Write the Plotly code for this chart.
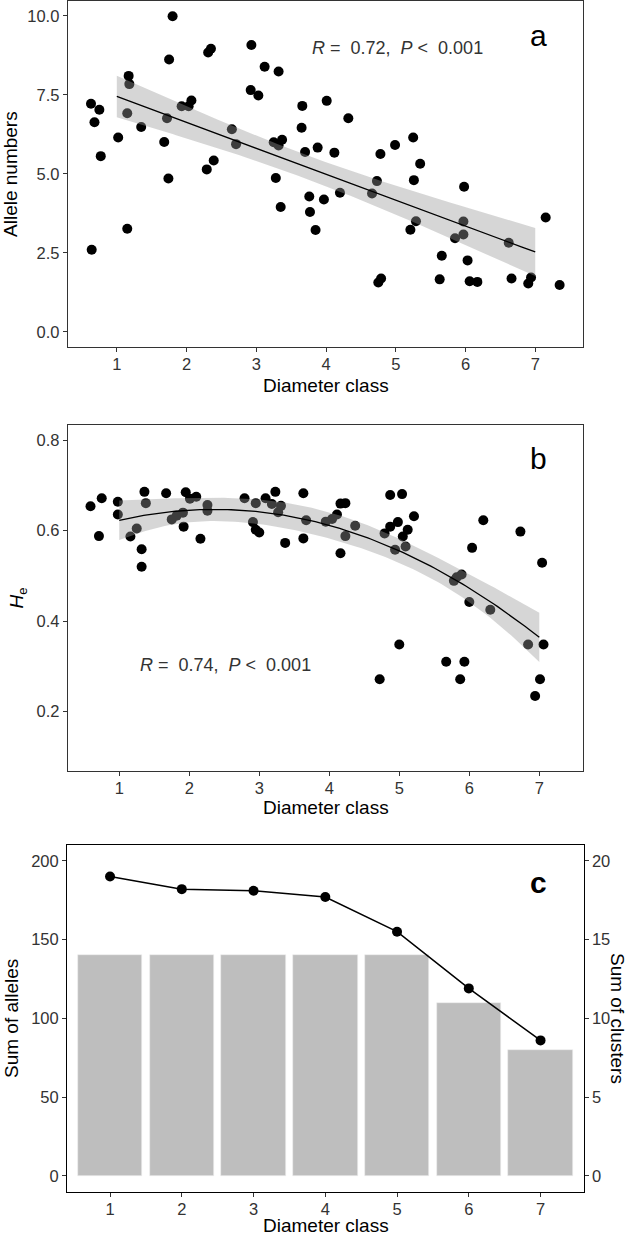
import numpy as np
import plotly.graph_objects as go

# ---------------- data ----------------
# Panel a: allele numbers vs diameter class (jittered x positions)
a_x = [0.63, 0.75, 0.68, 0.77, 0.64, 1.02, 1.17, 1.18, 1.15, 1.15, 1.35, 1.80, 1.75, 1.68, 1.74, 1.72,
       1.93, 2.03, 2.07, 2.31, 2.35, 2.29, 2.39, 2.65, 2.71, 2.93, 2.92, 3.03, 3.12, 3.32, 3.25, 3.37,
       3.32, 3.28, 3.35, 3.66, 3.65, 3.70, 3.88, 4.12, 4.01, 3.76, 3.77, 3.97, 3.85, 4.20, 4.32, 4.78,
       4.99, 5.25, 5.35, 5.26, 4.73, 4.66, 5.29, 5.21, 4.79, 4.75, 5.98, 5.97, 5.97, 5.85, 5.66, 6.03,
       5.63, 6.06, 6.17, 6.62, 6.66, 6.90, 6.94, 7.15, 7.35]
a_y = [7.22, 7.03, 6.63, 5.56, 2.60, 6.15, 8.10, 7.84, 6.92, 3.26, 6.48, 9.99, 8.62, 6.01, 4.85, 6.76,
       7.14, 7.14, 7.32, 8.84, 8.96, 5.14, 5.42, 6.41, 5.94, 9.08, 7.65, 7.48, 8.39, 8.24, 6.00, 6.08,
       5.90, 4.87, 3.95, 7.15, 6.46, 5.69, 5.83, 5.67, 7.31, 4.28, 3.79, 4.19, 3.22, 4.40, 6.76, 5.63,
       5.91, 6.15, 5.32, 4.80, 4.77, 4.38, 3.50, 3.23, 1.69, 1.56, 4.59, 3.49, 3.08, 2.96, 2.41, 2.26,
       1.66, 1.60, 1.58, 2.82, 1.69, 1.53, 1.72, 3.62, 1.48]

# Panel b: He vs diameter class (jittered x positions)
b_x = [0.59, 0.75, 0.71, 0.98, 0.98, 1.16, 1.25, 1.36, 1.38, 1.32, 1.32, 1.67, 1.75, 1.82, 1.91, 1.92,
       1.95, 2.01, 2.10, 2.16, 2.26, 2.26, 2.79, 2.95, 2.91, 2.95, 3.00, 3.09, 3.23, 3.18, 3.31, 3.27,
       3.37, 3.63, 3.67, 3.63, 3.95, 4.04, 4.11, 4.16, 4.23, 4.23, 4.16, 4.37, 4.87, 5.04, 5.21, 4.79,
       4.87, 4.98, 5.12, 5.05, 4.94, 5.09, 5.00, 4.72, 6.20, 6.04, 5.89, 5.78, 5.82, 6.00, 6.30, 5.67,
       5.93, 5.87, 6.73, 7.04, 6.84, 7.06, 7.01, 6.94]
b_y = [0.654, 0.672, 0.588, 0.664, 0.636, 0.587, 0.605, 0.686, 0.661, 0.559, 0.520, 0.683, 0.625, 0.633,
       0.640, 0.609, 0.685, 0.671, 0.675, 0.582, 0.657, 0.644, 0.672, 0.661, 0.619, 0.602, 0.596, 0.672,
       0.686, 0.659, 0.655, 0.641, 0.573, 0.683, 0.623, 0.583, 0.620, 0.626, 0.636, 0.660, 0.661, 0.588,
       0.550, 0.611, 0.679, 0.681, 0.632, 0.594, 0.609, 0.619, 0.602, 0.587, 0.558, 0.565, 0.348, 0.271,
       0.623, 0.562, 0.503, 0.489, 0.497, 0.442, 0.425, 0.310, 0.310, 0.271, 0.598, 0.529, 0.348, 0.348,
       0.271, 0.234]

# Panel c
classes = [1, 2, 3, 4, 5, 6, 7]
sum_alleles = [190, 182, 181, 177, 155, 119, 86]
sum_clusters = [14, 14, 14, 14, 14, 11, 8]

a_ticks = [0.0, 2.5, 5.0, 7.5, 10.0]
b_ticks = [0.2, 0.4, 0.6, 0.8]
c_left_ticks = [0, 50, 100, 150, 200]
c_right_ticks = [0, 5, 10, 15, 20]


# ---------------- fits (computed from the data) ----------------
def poly_fit_band(x, y, deg, grid, tval=1.99):
    x = np.asarray(x, float)
    y = np.asarray(y, float)
    X = np.vander(x, deg + 1, increasing=True)
    beta, *_ = np.linalg.lstsq(X, y, rcond=None)
    resid = y - X @ beta
    dof = len(y) - (deg + 1)
    s2 = resid @ resid / dof
    XtXi = np.linalg.inv(X.T @ X)
    G = np.vander(grid, deg + 1, increasing=True)
    fit = G @ beta
    se = np.sqrt(np.einsum("ij,jk,ik->i", G, XtXi, G) * s2)
    return fit, fit - tval * se, fit + tval * se


grid = np.linspace(min(classes), max(classes), 121)
a_fit, a_lo, a_hi = poly_fit_band(np.rint(a_x), a_y, 1, grid)
b_fit, b_lo, b_hi = poly_fit_band(np.rint(b_x), b_y, 2, grid)

FONT = "Arial, Liberation Sans, sans-serif"
TICKCOL = "#333333"
BAND = "rgba(153,153,153,0.4)"

fig = go.Figure()

# Panel a
fig.add_trace(go.Scatter(x=a_x, y=a_y, mode="markers", xaxis="x", yaxis="y",
                         marker=dict(color="black", size=10), showlegend=False))
fig.add_trace(go.Scatter(x=np.concatenate([grid, grid[::-1]]), y=np.concatenate([a_hi, a_lo[::-1]]),
                         fill="toself", fillcolor=BAND, line=dict(width=0), mode="lines",
                         xaxis="x", yaxis="y", showlegend=False, hoverinfo="skip"))
fig.add_trace(go.Scatter(x=grid, y=a_fit, mode="lines", line=dict(color="black", width=1.3),
                         xaxis="x", yaxis="y", showlegend=False))

# Panel b
fig.add_trace(go.Scatter(x=b_x, y=b_y, mode="markers", xaxis="x2", yaxis="y2",
                         marker=dict(color="black", size=10), showlegend=False))
fig.add_trace(go.Scatter(x=np.concatenate([grid, grid[::-1]]), y=np.concatenate([b_hi, b_lo[::-1]]),
                         fill="toself", fillcolor=BAND, line=dict(width=0), mode="lines",
                         xaxis="x2", yaxis="y2", showlegend=False, hoverinfo="skip"))
fig.add_trace(go.Scatter(x=grid, y=b_fit, mode="lines", line=dict(color="black", width=1.3),
                         xaxis="x2", yaxis="y2", showlegend=False))

# Panel c
fig.add_trace(go.Bar(x=classes, y=sum_clusters, width=0.9, xaxis="x3", yaxis="y3",
                     marker=dict(color="#BEBEBE", line=dict(color="#EEEEEE", width=0.6)),
                     showlegend=False))
fig.add_trace(go.Scatter(x=classes, y=sum_alleles, mode="lines+markers", xaxis="x3", yaxis="y4",
                         line=dict(color="black", width=1.5), marker=dict(color="black", size=10),
                         showlegend=False))

W, H = 632, 1235


def fx(px):
    return px / W


def fy(py):
    return 1 - py / H


axis_common = dict(showline=True, mirror=True, linecolor="#333333", linewidth=1,
                   ticks="outside", ticklen=4, tickcolor="#333333", showgrid=False, zeroline=False,
                   tickfont=dict(family=FONT, size=16.5, color=TICKCOL), automargin=False)
xaxis_extra = dict(ticklabelstandoff=-2)
title_font = dict(family=FONT, size=19, color="black")

fig.update_layout(
    width=W, height=H, margin=dict(l=0, r=0, t=0, b=0), autosize=False,
    paper_bgcolor="white", plot_bgcolor="white", bargap=0,
    xaxis=dict(axis_common, **xaxis_extra, domain=[fx(67.7), fx(583)], anchor="y", range=[0.296, 7.685],
               tickvals=classes),
    yaxis=dict(axis_common, domain=[fy(347.3), fy(1)], anchor="x", range=[-0.49, 10.47],
               tickvals=a_ticks, tickformat=".1f",
               title=dict(text="Allele numbers", font=title_font, standoff=7)),
    xaxis2=dict(axis_common, **xaxis_extra, domain=[fx(67.7), fx(583)], anchor="y2", range=[0.264, 7.624],
                tickvals=classes),
    yaxis2=dict(axis_common, domain=[fy(771), fy(425)], anchor="x2", range=[0.068, 0.834],
                tickvals=b_ticks, tickformat=".1f",
                title=dict(text="<i>H</i><sub>e</sub>", font=title_font, standoff=7)),
    xaxis3=dict(axis_common, **xaxis_extra, domain=[fx(67), fx(583.6)], anchor="y3", range=[0.4, 7.6],
                tickvals=classes, linecolor="black"),
    yaxis3=dict(axis_common, domain=[fy(1191.7), fy(845)], anchor="x3", range=[-1.0, 21.0],
                side="right", tickvals=c_right_ticks, linecolor="black"),
    yaxis4=dict(axis_common, anchor="x3", overlaying="y3", side="left", range=[-10, 210],
                tickvals=c_left_ticks, linecolor="black",
                title=dict(text="Sum of alleles", font=title_font, standoff=7)),
)

# x-axis titles (placed explicitly)
for yc in [fy(386), fy(807), fy(1225)]:
    fig.add_annotation(text="Diameter class", xref="paper", yref="paper", x=fx(325.5), y=yc,
                       xanchor="center", yanchor="middle", showarrow=False, font=title_font)

ann_font = dict(family=FONT, size=18, color="#333333")
nb = "\u00a0"
fig.add_annotation(text=f"<i>R</i> ={nb} 0.72,{nb} <i>P</i> &lt;{nb} 0.001", xref="paper", yref="paper",
                   x=fx(397), y=fy(48), xanchor="center", yanchor="middle", showarrow=False, font=ann_font)
fig.add_annotation(text=f"<i>R</i> ={nb} 0.74,{nb} <i>P</i> &lt;{nb} 0.001", xref="paper", yref="paper",
                   x=fx(225), y=fy(665), xanchor="center", yanchor="middle", showarrow=False, font=ann_font)
lab_font = dict(family=FONT, size=30, color="black")
fig.add_annotation(text="a", xref="paper", yref="paper", x=fx(538), y=fy(35), xanchor="center",
                   yanchor="middle", showarrow=False, font=lab_font)
fig.add_annotation(text="b", xref="paper", yref="paper", x=fx(538), y=fy(459), xanchor="center",
                   yanchor="middle", showarrow=False, font=lab_font)
fig.add_annotation(text="<b>c</b>", xref="paper", yref="paper", x=fx(538), y=fy(882), xanchor="center",
                   yanchor="middle", showarrow=False, font=lab_font)
# right-side axis title of panel c (reads top to bottom)
fig.add_annotation(text="Sum of clusters", xref="paper", yref="paper", x=fx(618), y=fy(1018),
                   xanchor="center", yanchor="middle", textangle=90, showarrow=False, font=title_font)

# remove the default page margin so the 632x1235 figure fills the window exactly
fig.write_html("out.html", config={"displayModeBar": False},
               post_script="document.body.style.margin='0';document.body.style.padding='0';")
